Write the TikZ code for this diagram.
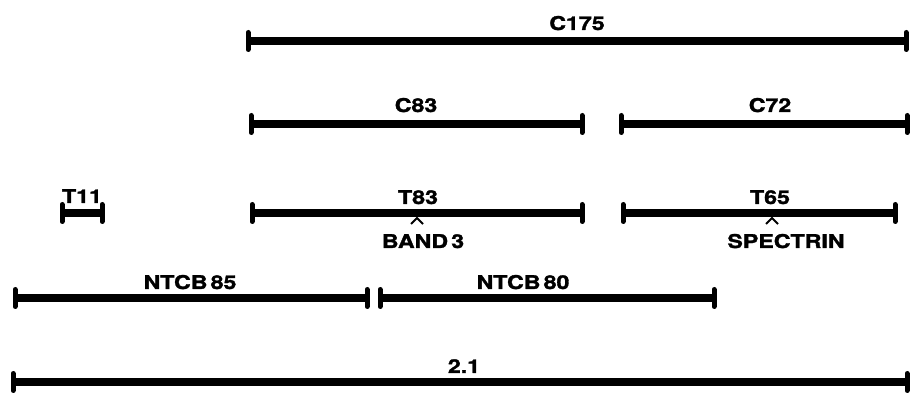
\documentclass[tikz,border=0pt]{standalone}
\usepackage{fontspec}
\setmainfont{TeX Gyre Heros}[FakeStretch=1.22,BoldFeatures={FakeBold=1.6}]
\begin{document}
\begin{tikzpicture}[x=1pt,y=-1pt,
  bar/.style={line width=7.5pt},
  tick/.style={line width=5pt,line cap=round},
  lab/.style={font=\fontsize{19}{19}\selectfont\bfseries,inner sep=0pt,anchor=base},
  caret/.style={line width=1.8pt}]
\useasboundingbox (0,0) rectangle (911,395);
% C175
\coordinate (c175a) at (248,41); \coordinate (c175b) at (906,41);
% C83, C72
\coordinate (c83a) at (251,124); \coordinate (c83b) at (582,124);
\coordinate (c72a) at (621,124); \coordinate (c72b) at (907,124);
% T11, T83, T65
\coordinate (t11a) at (62,213); \coordinate (t11b) at (102,213);
\coordinate (t83a) at (252,213); \coordinate (t83b) at (582,213);
\coordinate (t65a) at (623,213); \coordinate (t65b) at (895,213);
% NTCB
\coordinate (n85a) at (15,298); \coordinate (n85b) at (367,298);
\coordinate (n80a) at (380,298); \coordinate (n80b) at (714,298);
% 2.1
\coordinate (w21a) at (13,382); \coordinate (w21b) at (907,382);
\foreach \s in {c175,c83,c72,t11,t83,t65,n85,n80,w21}{
  \draw[bar] (\s a) -- (\s b);
  \draw[tick] ([yshift=-8.5pt]\s a) -- ([yshift=8.5pt]\s a);
  \draw[tick] ([yshift=-8.5pt]\s b) -- ([yshift=8.5pt]\s b);
}
\node[lab] (lc175) at (577,30) {C175};
\node[lab] (lc83) at (416,112) {C83};
\node[lab] (lc72) at (770,112) {C72};
\node[lab] (lt11) at (82,203) {T11};
\node[lab] (lt83) at (418,204) {T83};
\node[lab] (lt65) at (770,204) {T65};
\node[lab] (lband) at (423,248) {BAND\,3};
\node[lab] (lspec) at (786,248) {SPECTRIN};
\node[lab] (ln85) at (190,289) {NTCB\,85};
\node[lab] (ln80) at (523,289) {NTCB\,80};
\node[lab] (l21) at (464,373) {2.1};
\coordinate (car1) at (417,218);
\coordinate (car2) at (772,218);
\draw[caret] ([shift={(-6,6)}]car1) -- (car1) -- ([shift={(6,6)}]car1);
\draw[caret] ([shift={(-6,6)}]car2) -- (car2) -- ([shift={(6,6)}]car2);
\end{tikzpicture}
\end{document}
